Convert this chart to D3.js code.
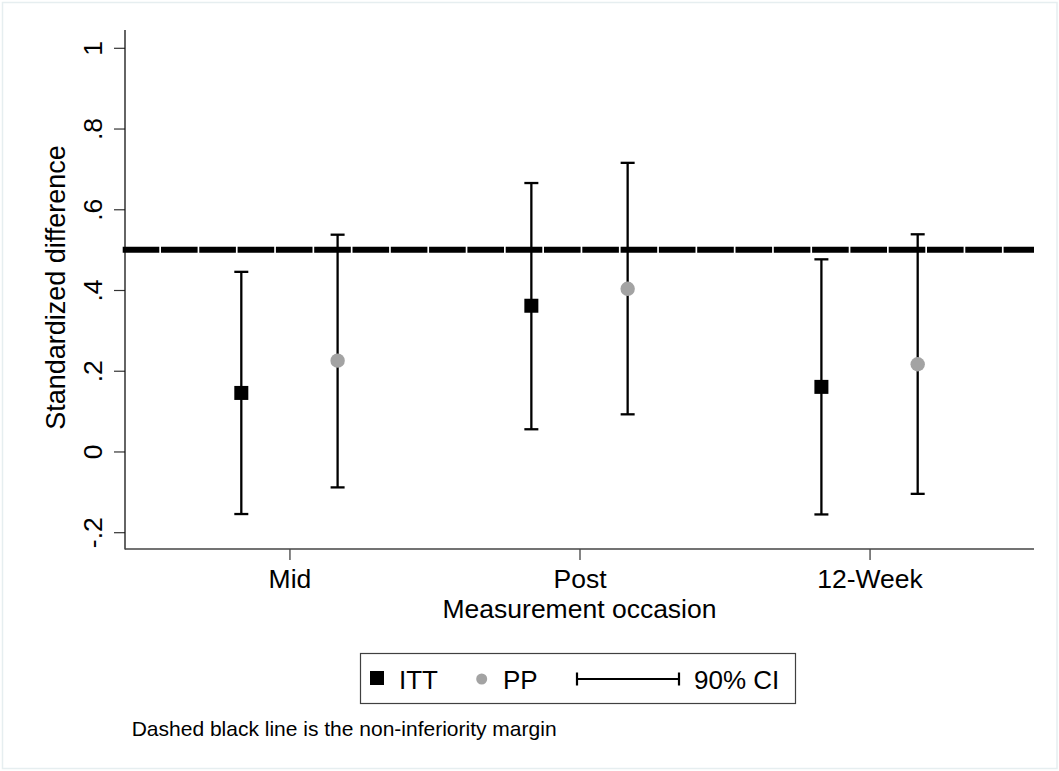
<!DOCTYPE html>
<html>
<head>
<meta charset="utf-8">
<script src="https://cdn.jsdelivr.net/npm/d3@7"></script>
<style>
  html, body { margin: 0; padding: 0; background: #fff; }
  svg { display: block; font-family: "Liberation Sans", Arial, Helvetica, sans-serif; }
</style>
</head>
<body>
<svg id="chart" width="1059" height="771"></svg>
<script>
// ---- data ----
const categories = ["Mid", "Post", "12-Week"];
const ittEst = [0.145, 0.361, 0.160];
const ittLo  = [-0.155, 0.055, -0.156];
const ittHi  = [0.445, 0.665, 0.476];
const ppEst  = [0.225, 0.403, 0.216];
const ppLo   = [-0.089, 0.092, -0.105];
const ppHi   = [0.537, 0.715, 0.538];
const margin = 0.5;
const yTicks = [-0.2, 0, 0.2, 0.4, 0.6, 0.8, 1];
const yTickLabels = ["-.2", "0", ".2", ".4", ".6", ".8", "1"];
const legendLabels = ["ITT", "PP", "90% CI"];
const yTitle = "Standardized difference";
const xTitle = "Measurement occasion";
const note = "Dashed black line is the non-inferiority margin";

// ---- layout ----
const W = 1059, H = 771;
const plot = { left: 125, right: 1034, top: 30, bottom: 549 };
const svg = d3.select("#chart");
const grey = "#a3a3a3";

// outer frame
svg.append("rect").attr("x", 2.5).attr("y", 2.5).attr("width", W - 4.5).attr("height", H - 5)
  .attr("fill", "#fff").attr("stroke", "#e6eef0").attr("stroke-width", 1.5);

const x = d3.scalePoint().domain(categories).range([plot.left, plot.right]).padding(0.567);
const off = x.step() * 0.166;
const y = d3.scaleLinear().domain([-0.2, 1]).range([532.2, 47.8]);

// axes
const yAxis = d3.axisLeft(y).tickValues(yTicks).tickSize(11).tickSizeOuter(0)
  .tickFormat((d, i) => yTickLabels[i]);
const gy = svg.append("g").attr("transform", `translate(${plot.left},0)`).call(yAxis);
gy.select(".domain").remove();
gy.selectAll(".tick line").attr("stroke", "#333").attr("stroke-width", 1.2);
gy.selectAll(".tick text")
  .attr("font-size", 26.5).attr("fill", "#000")
  .attr("text-anchor", "middle")
  .attr("x", 0).attr("y", 0).attr("dy", 0)
  .attr("transform", "translate(-23.5,0) rotate(-90)");

svg.append("line").attr("x1", plot.left).attr("x2", plot.left)
  .attr("y1", plot.top).attr("y2", plot.bottom + 0.5)
  .attr("stroke", "#111").attr("stroke-width", 1.3);

const xAxis = d3.axisBottom(x).tickSize(11).tickSizeOuter(0);
const gx = svg.append("g").attr("transform", `translate(0,${plot.bottom})`).call(xAxis);
gx.select(".domain").remove();
gx.selectAll(".tick line").attr("stroke", "#333").attr("stroke-width", 1.2);
gx.selectAll(".tick text").attr("font-size", 26.5).attr("fill", "#000").attr("y", 39).attr("dy", 0);

svg.append("line").attr("x1", plot.left).attr("x2", plot.right)
  .attr("y1", plot.bottom).attr("y2", plot.bottom)
  .attr("stroke", "#444").attr("stroke-width", 1.6);

// titles
svg.append("text").attr("transform", `translate(65,287.5) rotate(-90)`)
  .attr("text-anchor", "middle").attr("font-size", 27).text(yTitle);
svg.append("text").attr("x", 579.5).attr("y", 618.3)
  .attr("text-anchor", "middle").attr("font-size", 26.5).text(xTitle);

// margin line
svg.append("line").attr("x1", 122.7).attr("x2", plot.right)
  .attr("y1", y(margin)).attr("y2", y(margin))
  .attr("stroke", "#000").attr("stroke-width", 6)
  .attr("stroke-dasharray", "36.6 1.7");

// error bars & markers
const capW = 14;
function series(est, lo, hi, dx) {
  return categories.map((c, i) => ({ c, est: est[i], lo: lo[i], hi: hi[i], cx: x(c) + dx }));
}
const itt = series(ittEst, ittLo, ittHi, -off);
const pp = series(ppEst, ppLo, ppHi, off);

function drawBars(data) {
  const g = svg.append("g").attr("stroke", "#000").attr("stroke-width", 2.3);
  g.selectAll(".v").data(data).join("line")
    .attr("x1", d => d.cx).attr("x2", d => d.cx)
    .attr("y1", d => y(d.lo)).attr("y2", d => y(d.hi));
  g.selectAll(".t").data(data).join("line")
    .attr("x1", d => d.cx - capW / 2).attr("x2", d => d.cx + capW / 2)
    .attr("y1", d => y(d.hi)).attr("y2", d => y(d.hi));
  g.selectAll(".b").data(data).join("line")
    .attr("x1", d => d.cx - capW / 2).attr("x2", d => d.cx + capW / 2)
    .attr("y1", d => y(d.lo)).attr("y2", d => y(d.lo));
}
drawBars(itt);
drawBars(pp);

const sq = 14;
svg.append("g").selectAll("rect").data(itt).join("rect")
  .attr("x", d => d.cx - sq / 2).attr("y", d => y(d.est) - sq / 2)
  .attr("width", sq).attr("height", sq).attr("fill", "#000");
svg.append("g").selectAll("circle").data(pp).join("circle")
  .attr("cx", d => d.cx).attr("cy", d => y(d.est)).attr("r", 7.2).attr("fill", grey);

// legend
const lg = svg.append("g");
lg.append("rect").attr("x", 360.5).attr("y", 653.5).attr("width", 435).attr("height", 50)
  .attr("fill", "#fff").attr("stroke", "#404040").attr("stroke-width", 1.2);
lg.append("rect").attr("x", 370).attr("y", 671).attr("width", 14).attr("height", 14).attr("fill", "#000");
lg.append("circle").attr("cx", 481.7).attr("cy", 679).attr("r", 5.5).attr("fill", grey);
lg.append("line").attr("x1", 577).attr("x2", 679).attr("y1", 679).attr("y2", 679)
  .attr("stroke", "#000").attr("stroke-width", 2.2);
[577, 679].forEach(px => lg.append("line").attr("x1", px).attr("x2", px)
  .attr("y1", 672.5).attr("y2", 685.5).attr("stroke", "#000").attr("stroke-width", 2.2));
const legX = [399, 503, 694];
legendLabels.forEach((t, i) => lg.append("text").attr("x", legX[i]).attr("y", 689)
  .attr("font-size", 26).text(t));

// note
svg.append("text").attr("x", 131.7).attr("y", 736).attr("font-size", 21).text(note);
</script>
</body>
</html>
